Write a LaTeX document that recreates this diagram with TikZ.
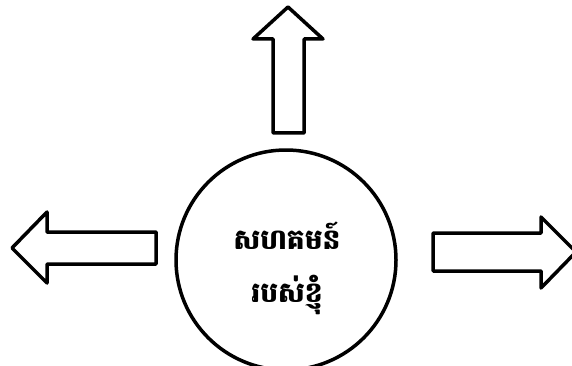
\documentclass[tikz,border=0pt]{standalone}
\usepackage{fontspec}
\newfontfamily\khmerfont[Script=Khmer]{Battambang}
\begin{document}
\begin{tikzpicture}[x=1pt,y=-1pt,
  outline/.style={draw=black, line width=3.5pt, line join=round, fill=white},
  khmertext/.style={font=\khmerfont\bfseries\fontsize{28}{34}\selectfont, inner sep=0pt}]
\useasboundingbox (0,0) rectangle (572,366);
\node[outline, circle, minimum size=220pt, inner sep=0pt] (comm) at (286,260) {};
\node[khmertext] (t1) at (287,236) {សហគមន៍};
\node[khmertext] (t2) at (287,295) {របស់ខ្ញុំ};
\draw[outline] (273,133) -- (273,39) -- (253,39) -- (288,7) -- (323,39) -- (304,39) -- (304,133) -- cycle;
\draw[outline] (156,232) -- (47,232) -- (47,212) -- (12,248) -- (47,283) -- (47,264) -- (156,264) -- cycle;
\draw[outline] (433,233) -- (541,233) -- (541,217) -- (576,252) -- (541,288) -- (541,271) -- (433,271) -- cycle;
\end{tikzpicture}
\end{document}
